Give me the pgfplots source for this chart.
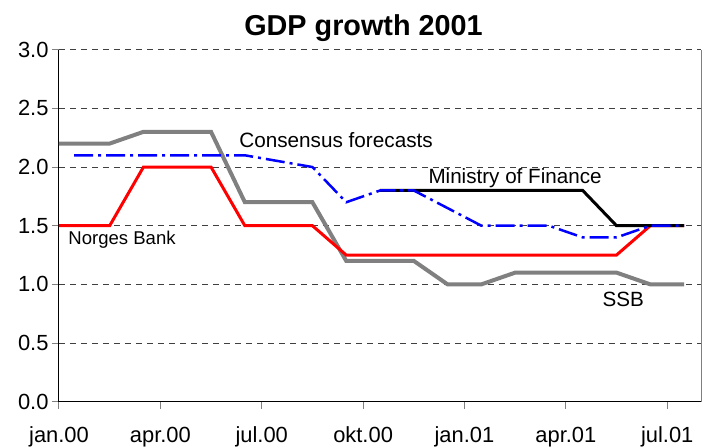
\documentclass[border=0pt]{standalone}
\usepackage{pgfplots}
\pgfplotsset{compat=1.18}
\usepackage{fontspec}
\setmainfont{Liberation Sans}
\definecolor{ssbgray}{RGB}{128,128,128}
\begin{document}
\begin{tikzpicture}
\path[use as bounding box] (-59bp,-45.3bp) rectangle (653bp,401.7bp);
\begin{axis}[
    at={(0,0)}, anchor=south west,
    scale only axis,
    width=642bp, height=352bp,
    xmin=0, xmax=19, ymin=0, ymax=3,
    axis x line*=bottom, axis y line*=left,
    axis line style={-, black, line width=1bp},
    xtick={0,3,6,9,12,15,18},
    xticklabels={jan.00,apr.00,jul.00,okt.00,jan.01,apr.01,jul.01},
    ytick={0,0.5,1,1.5,2,2.5,3},
    yticklabel style={/pgf/number format/.cd, fixed, fixed zerofill, precision=1, assume math mode=true},
    ticklabel style={font=\fontsize{22}{26}\selectfont},
    xticklabel style={anchor=base, yshift=-34bp},
    tick align=outside,
    major tick length=7bp,
    tick style={ssbgray, line width=1bp},
    ymajorgrids,
    major grid style={black!75, line width=0.8bp, dash pattern=on 6bp off 5bp},
    clip=false,
]
% SSB
\addplot[ssbgray, line width=4bp, sharp plot] coordinates {
    (0,2.2) (1.5,2.2) (2.5,2.3) (4.5,2.3) (5.5,1.7) (7.5,1.7) (8.5,1.2)
    (10.5,1.2) (11.5,1.0) (12.5,1.0) (13.5,1.1) (16.5,1.1) (17.5,1.0) (18.5,1.0)
};
% Norges Bank
\addplot[red, line width=3bp, sharp plot] coordinates {
    (0,1.5) (1.5,1.5) (2.5,2.0) (4.5,2.0) (5.5,1.5) (7.5,1.5) (8.5,1.25)
    (16.5,1.25) (17.5,1.5) (18.5,1.5)
};
% Ministry of Finance
\addplot[black, line width=3bp, sharp plot] coordinates {
    (9.5,1.8) (15.5,1.8) (16.5,1.5) (18.5,1.5)
};
% Consensus forecasts
\addplot[blue, line width=2.5bp, sharp plot, dash pattern=on 19bp off 5bp on 3bp off 5bp] coordinates {
    (0.45,2.1) (5.5,2.1) (7.5,2.0) (8.5,1.7) (9.5,1.8) (10.5,1.8) (12.5,1.5)
    (14.5,1.5) (15.5,1.4) (16.5,1.4) (17.5,1.5) (18.5,1.5)
};
\draw[ssbgray, line width=1bp] (rel axis cs:1,0) -- (rel axis cs:1,1);
\node[anchor=base west, inner sep=0pt, font=\fontsize{20.8}{24}\selectfont] at (axis cs:5.33,2.163) {Consensus forecasts};
\node[anchor=base west, inner sep=0pt, font=\fontsize{20.7}{24}\selectfont] at (axis cs:10.93,1.862) {Ministry of Finance};
\node[anchor=base west, inner sep=0pt, font=\fontsize{18.6}{22}\selectfont] at (axis cs:0.275,1.336) {Norges Bank};
\node[anchor=base west, inner sep=0pt, font=\fontsize{20.7}{24}\selectfont] at (axis cs:16.08,0.81) {SSB};
\end{axis}
\node[anchor=base, inner sep=0pt, font=\bfseries\fontsize{28.9}{34}\selectfont] at (304.5bp,365.7bp) {GDP growth 2001};
\end{tikzpicture}
\end{document}
